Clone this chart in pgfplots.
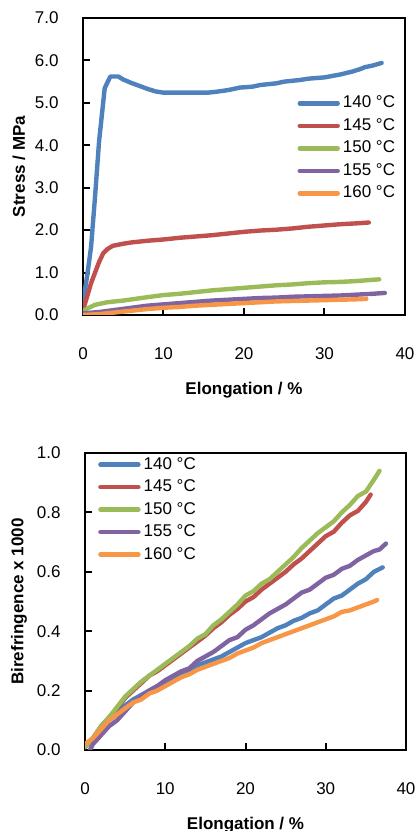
\documentclass[border=0pt]{standalone}
\usepackage{fontspec}
\setmainfont{Liberation Sans}
\usepackage{pgfplots}
\pgfplotsset{compat=1.18}

\definecolor{cA}{HTML}{4F81BD}
\definecolor{cB}{HTML}{C0504D}
\definecolor{cC}{HTML}{9BBB59}
\definecolor{cD}{HTML}{8064A2}
\definecolor{cE}{HTML}{F79646}

\pgfplotsset{
  elong/.style={
    scale only axis,
    xmin=0, xmax=40, xtick={0,10,20,30,40},
    tick align=inside, xtick pos=bottom, ytick pos=left,
    major tick length=3.5pt,
    axis line style={line width=1.2pt},
    every tick/.style={black, line width=1pt},
    tick label style={font=\fontsize{8.5}{10}\selectfont},
    /pgf/number format/assume math mode=true,
    y tick label style={/pgf/number format/fixed, /pgf/number format/fixed zerofill,
      /pgf/number format/precision=1, xshift=-8.7pt},
    x tick label style={yshift=-12.6pt},
    xlabel={Elongation / \%},
    xlabel style={font=\fontsize{8.5}{10}\selectfont\bfseries, at={(axis description cs:0.5,0)}, anchor=center, yshift=-37.5pt},
    ylabel style={font=\fontsize{8.5}{10}\selectfont\bfseries, at={(axis description cs:0,0.5)}, anchor=center},
    legend style={draw=none, fill=none, anchor=north west, inner sep=0pt, row sep=0pt,
      font=\fontsize{8.5}{10}\selectfont,
      nodes={inner sep=0pt, minimum height=11.25pt},
      /tikz/every odd column/.style={column sep=1.5pt}},
    legend cell align=left,
    legend image code/.code={\draw[#1, line width=2.2pt, line cap=round] (0pt,0pt) -- (19pt,0pt);},
    every axis plot/.append style={line width=2.2pt, line join=round, line cap=round, no markers},
  }
}

\begin{document}
\begin{tikzpicture}
\begin{axis}[elong, at={(41.5pt,258pt)}, anchor=south west,
  width=161pt, height=148.5pt,
  ymin=0, ymax=7, ytick={0,1,2,3,4,5,6,7},
  ylabel={Stress / MPa}, ylabel style={yshift=32pt},
  legend style={at={(0.665,0.752)}}]
\addplot[cA] coordinates {(0,0.3)(0.5,0.9)(1,1.6)(1.5,2.8)(2,4.1)(2.7,5.35)(3.4,5.62)(4.4,5.62)(5,5.55)(6,5.47)(7,5.4)(8,5.33)(9,5.27)(10,5.24)(12,5.24)(14,5.24)(15.5,5.24)(16.5,5.26)(18,5.3)(19.5,5.36)(21,5.38)(22,5.42)(24,5.46)(25,5.5)(27,5.54)(28,5.57)(30,5.6)(32,5.67)(33.5,5.74)(34.5,5.8)(35,5.84)(36,5.88)(37.1,5.94)};
\addplot[cB] coordinates {(0,0.12)(0.3,0.3)(1,0.75)(1.5,1.0)(2,1.25)(2.5,1.45)(3,1.55)(3.7,1.63)(5,1.68)(6,1.71)(8,1.75)(10,1.78)(12,1.82)(14,1.85)(16,1.88)(18,1.92)(20,1.96)(22,1.99)(24,2.01)(26,2.04)(28,2.08)(30,2.11)(32,2.14)(34,2.16)(35.5,2.18)};
\addplot[cC] coordinates {(0,0.08)(0.5,0.15)(1.5,0.24)(3,0.3)(5,0.34)(8,0.42)(10,0.47)(12,0.5)(14,0.54)(16,0.58)(18,0.61)(20,0.64)(22,0.67)(24,0.7)(26,0.72)(28,0.75)(30,0.77)(32,0.78)(34,0.8)(36,0.83)(36.8,0.84)};
\addplot[cD] coordinates {(0,0.04)(2,0.07)(4,0.12)(6,0.17)(8,0.22)(10,0.25)(12,0.28)(14,0.31)(16,0.34)(18,0.36)(20,0.38)(22,0.4)(24,0.41)(26,0.43)(28,0.44)(30,0.45)(32,0.46)(34,0.48)(36,0.5)(37.5,0.52)};
\addplot[cE] coordinates {(0,0.0)(2,0.02)(4,0.06)(6,0.1)(8,0.14)(10,0.17)(12,0.19)(14,0.22)(16,0.24)(18,0.26)(20,0.28)(22,0.3)(24,0.32)(26,0.33)(28,0.34)(30,0.35)(32,0.36)(34,0.37)(35.2,0.38)};
\legend{140 °C,145 °C,150 °C,155 °C,160 °C}
\end{axis}

\begin{axis}[elong, at={(42.5pt,40.5pt)}, anchor=south west,
  width=160.5pt, height=148.5pt,
  ymin=0, ymax=1, ytick={0,0.2,0.4,0.6,0.8,1},
  ylabel={Birefringence x 1000}, ylabel style={yshift=33pt},
  legend style={at={(0.04,1.0)}}]
\addplot[cA] coordinates {(0,0.01)(1,0.04)(2,0.07)(3,0.1)(4,0.125)(5,0.15)(6,0.17)(7,0.185)(8,0.2)(9,0.215)(10,0.23)(11,0.245)(12,0.26)(13,0.27)(14,0.285)(15,0.295)(16,0.305)(17,0.315)(18,0.33)(19,0.345)(20,0.36)(21,0.37)(22,0.38)(23,0.395)(24,0.41)(25,0.42)(26,0.435)(27,0.445)(28,0.46)(29,0.47)(30,0.49)(31,0.51)(32,0.52)(33,0.54)(34,0.56)(35,0.575)(36,0.6)(37.1,0.615)};
\addplot[cB] coordinates {(0,0.01)(1,0.04)(2,0.08)(3,0.11)(4,0.14)(5,0.175)(6,0.2)(7,0.225)(8,0.25)(9,0.265)(10,0.285)(11,0.305)(12,0.325)(13,0.345)(14,0.365)(15,0.385)(16,0.41)(17,0.43)(18,0.455)(19,0.475)(20,0.5)(21,0.515)(22,0.54)(23,0.56)(24,0.58)(25,0.6)(26,0.625)(27,0.645)(28,0.67)(29,0.695)(30,0.72)(31,0.735)(32,0.765)(33,0.79)(34,0.805)(35,0.835)(35.6,0.86)};
\addplot[cC] coordinates {(0,0.01)(1,0.04)(2,0.08)(3,0.11)(4,0.145)(5,0.18)(6,0.205)(7,0.23)(8,0.25)(9,0.27)(10,0.29)(11,0.31)(12,0.33)(13,0.35)(14,0.375)(15,0.39)(16,0.42)(17,0.44)(18,0.465)(19,0.49)(20,0.52)(21,0.535)(22,0.56)(23,0.575)(24,0.6)(25,0.625)(26,0.65)(27,0.68)(28,0.705)(29,0.73)(30,0.75)(31,0.77)(32,0.8)(33,0.825)(34,0.855)(35,0.87)(36,0.91)(36.7,0.94)};
\addplot[cD] coordinates {(0.6,0)(1,0.02)(2,0.05)(3,0.08)(4,0.1)(5,0.13)(6,0.16)(7,0.18)(8,0.2)(9,0.215)(10,0.235)(11,0.25)(12,0.265)(13,0.275)(14,0.3)(15,0.315)(16,0.33)(17,0.35)(18,0.37)(19,0.38)(20,0.405)(21,0.42)(22,0.44)(23,0.46)(24,0.475)(25,0.49)(26,0.51)(27,0.53)(28,0.54)(29,0.56)(30,0.58)(31,0.59)(32,0.61)(33,0.62)(34,0.64)(35,0.655)(36,0.67)(36.7,0.675)(37.5,0.695)};
\addplot[cE] coordinates {(0,0.02)(1,0.04)(2,0.07)(3,0.1)(4,0.12)(5,0.14)(6,0.16)(7,0.17)(8,0.19)(9,0.2)(10,0.215)(11,0.23)(12,0.245)(13,0.255)(14,0.27)(15,0.28)(16,0.29)(17,0.3)(18,0.31)(19,0.325)(20,0.335)(21,0.345)(22,0.36)(23,0.37)(24,0.38)(25,0.39)(26,0.4)(27,0.41)(28,0.42)(29,0.43)(30,0.44)(31,0.45)(32,0.465)(33,0.47)(34,0.48)(35,0.49)(36,0.5)(36.4,0.505)};
\legend{140 °C,145 °C,150 °C,155 °C,160 °C}
\end{axis}
\pgfresetboundingbox
\path[use as bounding box] (0,0) rectangle (207.5pt,415.5pt);
\end{tikzpicture}
\end{document}
